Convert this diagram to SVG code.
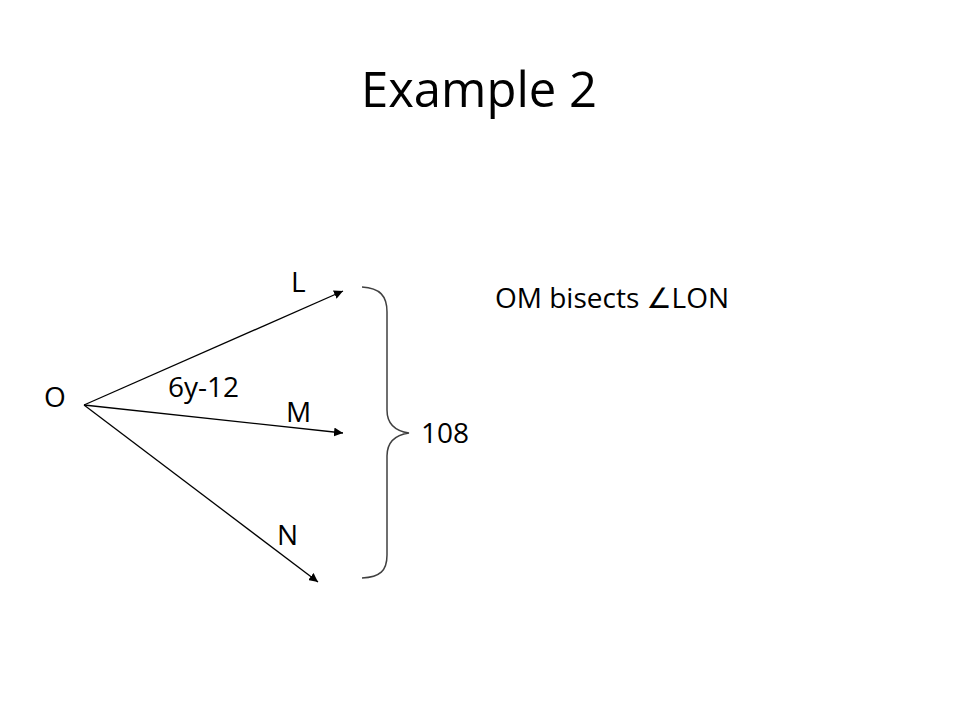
<svg xmlns="http://www.w3.org/2000/svg" width="960" height="720" viewBox="0 0 960 720">
<defs>
<marker id="ah" viewBox="0 0 10 10" refX="10" refY="5" markerWidth="9" markerHeight="9" markerUnits="userSpaceOnUse" orient="auto">
<path d="M0,0 L10,5 L0,10 z" fill="#000"/>
</marker>
</defs>
<style>
.t{font-family:"Open Sans","DejaVu Sans",sans-serif;fill:#000}
.lbl{font-size:28px}
.ray{stroke:#000;stroke-width:1.3;fill:none;marker-end:url(#ah)}
.brace{stroke:#404040;stroke-width:1.5;fill:none}
</style>
<rect width="960" height="720" fill="#fff"/>
<text class="t" x="479" y="107" font-size="49" text-anchor="middle">Example 2</text>
<g id="connectors">
<line class="ray" x1="84" y1="405" x2="343" y2="291"/>
<line class="ray" x1="84" y1="405" x2="343" y2="433"/>
<line class="ray" x1="84" y1="405" x2="318" y2="582"/>
</g>
<g id="brace">
<path class="brace" d="M362,287 C380,288 387,296 387,312 L387,410 C387,424 395,431 409,433 C395,435 387,442 387,456 L387,555 C387,571 380,577 362,578"/>
</g>
<g id="O"><text class="t lbl" x="44" y="407">O</text></g>
<g id="L"><text class="t lbl" x="291" y="292">L</text></g>
<g id="M"><text class="t lbl" x="286" y="422">M</text></g>
<g id="N"><text class="t lbl" x="277" y="545">N</text></g>
<g id="angle-label"><text class="t lbl" x="168" y="397">6y-12</text></g>
<g id="total-label"><text class="t lbl" x="421" y="443">108</text></g>
<g id="statement"><text class="t lbl" x="495" y="308">OM bisects ∠LON</text></g>
</svg>
